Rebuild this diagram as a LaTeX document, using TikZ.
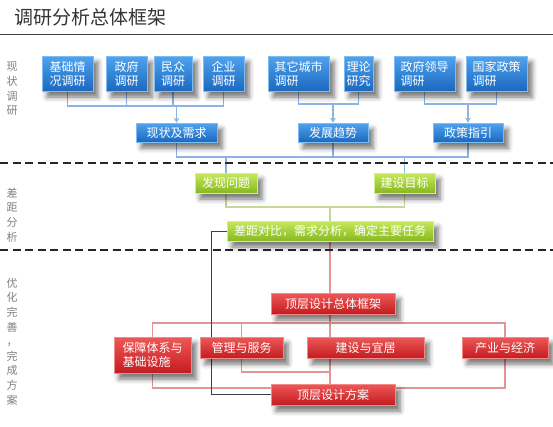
\documentclass[tikz,border=0pt]{standalone}
\usepackage{fontspec}
\setmainfont{Noto Sans CJK SC}
\usetikzlibrary{shadows.blur,arrows.meta,backgrounds}
\definecolor{bluetop}{HTML}{4FA3EE}
\definecolor{bluebot}{HTML}{1C68C0}
\definecolor{blueedge}{HTML}{7DBDF2}
\definecolor{greentop}{HTML}{C6E85C}
\definecolor{greenbot}{HTML}{86B81E}
\definecolor{greenedge}{HTML}{D6F08A}
\definecolor{redtop}{HTML}{EE5858}
\definecolor{redbot}{HTML}{C41C20}
\definecolor{rededge}{HTML}{F28A8A}
\definecolor{bluelinec}{HTML}{8DB3E2}
\definecolor{greenlinec}{HTML}{C4D89E}
\definecolor{redlinec}{HTML}{E39494}
\definecolor{blacklinec}{HTML}{404040}
\definecolor{sidegray}{HTML}{7F7F7F}
\definecolor{titlegray}{HTML}{333333}
\tikzset{
  boxbase/.style={rectangle, inner sep=0pt, text=white, align=left,
    font=\fontsize{12}{14}\selectfont, line width=0.6pt,
    blur shadow={shadow xshift=5pt, shadow yshift=-6pt, shadow blur radius=5pt, shadow opacity=55}},
  bluebox/.style={boxbase, draw=blueedge, top color=bluetop, bottom color=bluebot},
  greenbox/.style={boxbase, draw=greenedge, top color=greentop, bottom color=greenbot},
  redbox/.style={boxbase, draw=rededge, top color=redtop, bottom color=redbot},
  bline/.style={draw=bluelinec, line width=1.2pt},
  gline/.style={draw=greenlinec, line width=1.2pt},
  rline/.style={draw=redlinec, line width=1.1pt},
  kline/.style={draw=blacklinec, line width=1pt},
  sepline/.style={draw=black!85, line width=2.2pt, dash pattern=on 8pt off 4.5pt},
  sidelabel/.style={text=sidegray, align=center, inner sep=0pt, font=\fontsize{11}{14.6}\selectfont}
}
\begin{document}
\begin{tikzpicture}[x=1pt,y=-1pt]
\useasboundingbox (0,0) rectangle (553,426);

% title
\node[anchor=west, inner sep=0pt, text=titlegray, font=\fontsize{19}{19}\selectfont] (title) at (14,17.5) {调研分析总体框架};
\coordinate (tl1) at (0,34.5);
\coordinate (tl2) at (553,34.5);
\draw[draw=blacklinec, line width=1.5pt] (tl1) -- (tl2);

% side labels
\node[sidelabel] (l1) at (12,89) {现\\状\\调\\研};
\node[sidelabel] (l2) at (12,215) {差\\距\\分\\析};
\node[sidelabel] (l3) at (12,341.5) {优\\化\\完\\善\\，\\完\\成\\方\\案};

% separators
\coordinate (d1a) at (0,163);
\coordinate (d1b) at (553,163);
\coordinate (d2a) at (0,250);
\coordinate (d2b) at (553,250);
\draw[sepline] (d1a) -- (d1b);
\draw[sepline] (d2a) -- (d2b);

% blue top boxes
\node[bluebox, minimum width=51, minimum height=35] (b1) at (67.5,73.5) {基础情\\况调研};
\node[bluebox, minimum width=41, minimum height=35] (b2) at (126.5,73.5) {政府\\调研};
\node[bluebox, minimum width=38, minimum height=35] (b3) at (173,73.5) {民众\\调研};
\node[bluebox, minimum width=41, minimum height=35] (b4) at (223.5,73.5) {企业\\调研};
\node[bluebox, minimum width=61, minimum height=35] (b5) at (298.5,73.5) {其它城市\\调研};
\node[bluebox, minimum width=29, minimum height=35] (b6) at (358.5,73.5) {理论\\研究};
\node[bluebox, minimum width=61, minimum height=35] (b7) at (424.5,73.5) {政府领导\\调研};
\node[bluebox, minimum width=61, minimum height=35] (b8) at (496.5,73.5) {国家政策\\调研};

% blue second row
\node[bluebox, minimum width=81, minimum height=19] (s1) at (176.5,132.5) {现状及需求};
\node[bluebox, minimum width=70, minimum height=19] (s2) at (333,132.5) {发展趋势};
\node[bluebox, minimum width=70, minimum height=19] (s3) at (468,132.5) {政策指引};

% green boxes
\node[greenbox, minimum width=62, minimum height=20] (g1) at (226,183) {发现问题};
\node[greenbox, minimum width=61, minimum height=20] (g2) at (404.5,183) {建设目标};
\node[greenbox, minimum width=206, minimum height=20] (g3) at (330,231) {差距对比，需求分析，确定主要任务};

% red boxes
\node[redbox, minimum width=124, minimum height=21] (r1) at (333,303.5) {顶层设计总体框架};
\node[redbox, minimum width=77, minimum height=36] (r2) at (152.5,355) {保障体系与\\基础设施};
\node[redbox, minimum width=83, minimum height=21] (r3) at (241.5,347.5) {管理与服务};
\node[redbox, minimum width=117, minimum height=21] (r4) at (365.5,347.5) {建设与宜居};
\node[redbox, minimum width=86, minimum height=21] (r5) at (505,347.5) {产业与经济};
\node[redbox, minimum width=124, minimum height=21] (r6) at (333,394.5) {顶层设计方案};

\begin{scope}[on background layer]
% blue buses
\coordinate (j1) at (0,106);
\coordinate (j2) at (0,104);
\coordinate (j4) at (0,157);
\draw[bline] (b1.south) |- (b4.south |- j1) -- (b4.south);
\draw[bline] (b2.south) -- (b2.south |- j1);
\draw[bline] (b3.south) -- (b3.south |- j1);
\draw[bline, -{Stealth[length=5pt,width=6pt]}] (s1.north |- j1) -- (s1.north);
\draw[bline] (b5.south) |- (b6.south |- j2) -- (b6.south);
\draw[bline, -{Stealth[length=5pt,width=6pt]}] (s2.north |- j2) -- (s2.north);
\draw[bline] (b7.south) |- (b8.south |- j2) -- (b8.south);
\draw[bline, -{Stealth[length=5pt,width=6pt]}] (s3.north |- j2) -- (s3.north);
\draw[bline] (s1.south) |- (s3.south |- j4) -- (s3.south);
\draw[bline] (s2.south) -- (s2.south |- j4);
\draw[bline] (g1.north |- j4) -- (g1.north);
\draw[bline] (g2.north |- j4) -- (g2.north);
% green
\coordinate (j5) at (0,207);
\draw[gline] (g1.south) |- (g2.south |- j5) -- (g2.south);
\draw[gline] (g3.north |- j5) -- (g3.north);
% red
\coordinate (j7) at (0,323);
\coordinate (j8) at (0,388);
\coordinate (j9) at (0,372);
\draw[rline] (g3.south) -- (g3.south |- r1.north);
\draw[rline] (r1.south -| g3.south) -- (r6.north -| g3.south);
\draw[rline] (r2.north) |- (r5.north |- j7) -- (r5.north);
\draw[rline] (r3.north) -- (r3.north |- j7);
\draw[rline] (r2.south) |- (r6.west |- j8);
\draw[rline] (r5.south) |- (r6.east |- j8);
\draw[rline] (r3.south) |- (g3.south |- j9);
% black
\coordinate (k1) at (211,394);
\draw[kline] (g3.west) -| (k1) -- (r6.west |- k1);
\end{scope}
\end{tikzpicture}
\end{document}
